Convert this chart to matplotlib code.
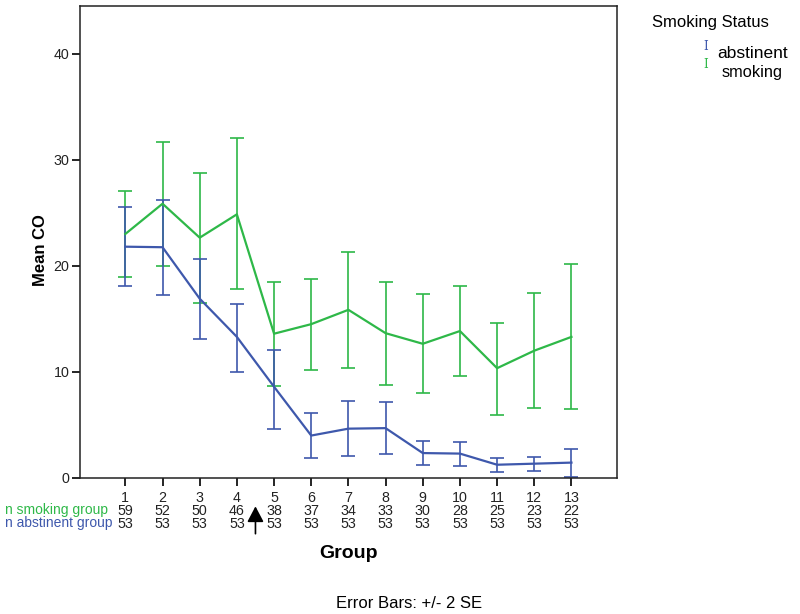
#!/usr/bin/env python

# Import libraries
import matplotlib
matplotlib.use('Agg')
import matplotlib.pyplot as plt

plt.rcParams['font.family'] = ['Liberation Sans', 'DejaVu Sans']

# Data
groups = list(range(1, 14))
n_smoking = [59, 52, 50, 46, 38, 37, 34, 33, 30, 28, 25, 23, 22]
n_abstinent = [53, 53, 53, 53, 53, 53, 53, 53, 53, 53, 53, 53, 53]

abst_mean = [21.8, 21.75, 16.9, 13.3, 8.6, 4.0, 4.65, 4.7, 2.35, 2.3, 1.25, 1.35, 1.45]
abst_upper = [25.5, 26.2, 20.6, 16.4, 12.1, 6.15, 7.25, 7.15, 3.45, 3.4, 1.85, 2.0, 2.75]
abst_lower = [18.05, 17.25, 13.1, 9.95, 4.65, 1.85, 2.1, 2.25, 1.2, 1.1, 0.6, 0.7, 0.1]

smok_mean = [23.0, 25.85, 22.65, 24.85, 13.6, 14.5, 15.85, 13.65, 12.65, 13.85, 10.35, 12.0, 13.3]
smok_upper = [27.05, 31.7, 28.75, 32.0, 18.45, 18.75, 21.3, 18.5, 17.3, 18.1, 14.6, 17.4, 20.2]
smok_lower = [18.95, 20.0, 16.5, 17.8, 8.7, 10.15, 10.4, 8.8, 8.0, 9.6, 5.9, 6.6, 6.5]

blue = '#3E58AC'
green = '#2EB848'

fig = plt.figure(figsize=(8, 6.14), dpi=100)
ax = fig.add_axes([0.1, 0.2215, 0.671, 0.769])

# Lines with +/- 2 SE error bars
for mean, up, lo, col in [(smok_mean, smok_upper, smok_lower, green),
                          (abst_mean, abst_upper, abst_lower, blue)]:
    err = [[m - l for m, l in zip(mean, lo)], [u - m for m, u in zip(mean, up)]]
    ax.errorbar(groups, mean, yerr=err, color=col, linewidth=1.6,
                elinewidth=1.2, capsize=5, capthick=1.2)

ax.set_xlim(-0.22, 14.22)
ax.set_ylim(0, 44.5)
ax.set_yticks([0, 10, 20, 30, 40])
ax.set_xticks(groups)
ax.set_xticklabels([str(g) for g in groups])
ax.tick_params(axis='both', direction='out', length=6, width=1.2,
               labelsize=10.3, labelcolor='#222222')
ax.tick_params(axis='x', pad=3.5)
ax.tick_params(axis='y', pad=1.5)
for s in ax.spines.values():
    s.set_linewidth(1.1)
    s.set_color('#222222')

ax.set_ylabel('Mean CO', fontsize=12, fontweight='bold')
ax.yaxis.set_label_coords(-0.06, 0.483)

# n rows below the ticks
xt = ax.get_xaxis_transform()
for g, ns, na in zip(groups, n_smoking, n_abstinent):
    ax.annotate(str(ns), xy=(g, 0), xycoords=xt, xytext=(0, -23.8),
                textcoords='offset points', ha='center', va='center',
                fontsize=10.3, color='#222222', annotation_clip=False)
    ax.annotate(str(na), xy=(g, 0), xycoords=xt, xytext=(0, -33.3),
                textcoords='offset points', ha='center', va='center',
                fontsize=10.3, color='#222222', annotation_clip=False)

fig.text(5 / 800, 1 - 510 / 614, 'n smoking group', color=green, fontsize=10,
         ha='left', va='center')
fig.text(5 / 800, 1 - 523.5 / 614, 'n abstinent group', color=blue, fontsize=10,
         ha='left', va='center')

# Arrow marking the change between group 4 and 5
ax.annotate('', xy=(4.5, -0.06), xytext=(4.5, -0.118), xycoords=xt,
            annotation_clip=False,
            arrowprops=dict(arrowstyle='-|>,head_length=0.95,head_width=0.5',
                            color='black', lw=1.2, mutation_scale=10,
                            shrinkA=0, shrinkB=0))

fig.text(0.4355, 1 - 553 / 614, 'Group', fontsize=14, fontweight='bold',
         ha='center', va='center')
fig.text(409.5 / 800, 1 - 603 / 614, 'Error Bars: +/- 2 SE', fontsize=12,
         ha='center', va='center')

# Legend
fig.text(652 / 800, 1 - 22 / 614, 'Smoking Status', fontsize=12, ha='left',
         va='center')
fig.text(706 / 800, 1 - 47 / 614, 'I', color=blue, fontsize=8.5,
         family='DejaVu Serif', ha='center', va='center')
fig.text(706 / 800, 1 - 64 / 614, 'I', color=green, fontsize=8.5,
         family='DejaVu Serif', ha='center', va='center')
fig.text(717 / 800, 1 - 53 / 614, 'abstinent', fontsize=12.5, ha='left',
         va='center')
fig.text(722 / 800, 1 - 72 / 614, 'smoking', fontsize=11.8, ha='left',
         va='center')

fig.savefig('out.png', dpi=100)
